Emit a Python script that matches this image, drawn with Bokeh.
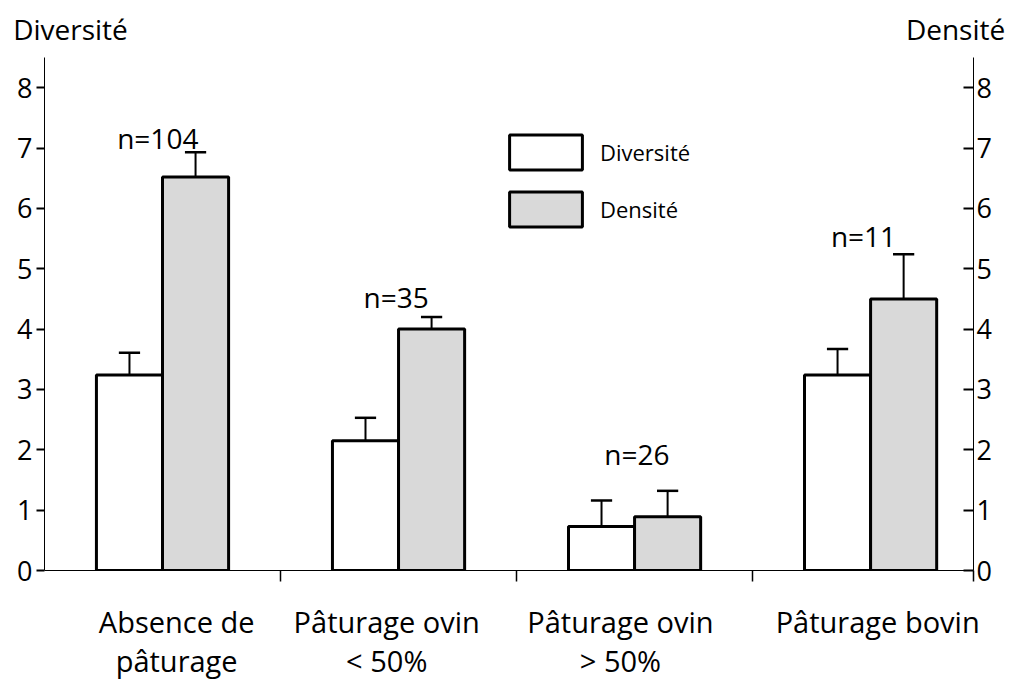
from bokeh.plotting import figure
from bokeh.models import Range1d, LinearAxis, FixedTicker, Legend, LegendItem
from bokeh.embed import file_html
from bokeh.resources import INLINE
from bokeh.core.properties import value

# ---- data ----
categories = ["Absence de\npâturage", "Pâturage ovin\n< 50%", "Pâturage ovin\n> 50%", "Pâturage bovin"]
diversite = [3.24, 2.15, 0.73, 3.24]
diversite_err = [0.37, 0.38, 0.43, 0.43]
densite = [6.52, 4.00, 0.89, 4.50]
densite_err = [0.41, 0.20, 0.43, 0.74]
effectifs = ["n=104", "n=35", "n=26", "n=11"]
y_ticks = [0, 1, 2, 3, 4, 5, 6, 7, 8]
axis_titles = ["Diversité", "Densité"]

# ---- layout / style ----
FONT = "Open Sans"
W, H = 1013, 682
X_END = 3.936
BW = 0.28
GRAY = "#d9d9d9"

p = figure(width=W, height=H, output_backend="svg", toolbar_location=None,
           x_range=Range1d(0, X_END), y_range=Range1d(0, 8.5),
           min_border_left=44, min_border_right=40, min_border_top=57, min_border_bottom=111)
p.grid.visible = False
p.outline_line_color = None
p.background_fill_color = "white"
p.border_fill_color = "white"

centers = [i + 0.5 for i in range(len(categories))]
x_div = [c - BW / 2 for c in centers]
x_den = [c + BW / 2 for c in centers]

r_div = p.vbar(x=x_div, top=diversite, bottom=0, width=BW, fill_color="white",
               line_color="black", line_width=3)
r_den = p.vbar(x=x_den, top=densite, bottom=0, width=BW, fill_color=GRAY,
               line_color="black", line_width=3)

CAP = 0.045
for xs, vals, errs in ((x_div, diversite, diversite_err), (x_den, densite, densite_err)):
    tops = [v + e for v, e in zip(vals, errs)]
    p.segment(x0=xs, x1=xs, y0=vals, y1=tops, line_color="black", line_width=2)
    p.segment(x0=[x - CAP for x in xs], x1=[x + CAP for x in xs], y0=tops, y1=tops,
              line_color="black", line_width=2.5)

# n labels
n_x = [0.48, 1.49, 2.51, 3.47]
n_y = [7.17, 4.53, 1.93, 5.55]
p.text(x=n_x, y=n_y, text=effectifs, text_align="center", text_baseline="alphabetic",
       text_font=value(FONT), text_font_size="28px", text_color="black")

# ---- axes ----
ya = p.yaxis[0]
ya.ticker = FixedTicker(ticks=y_ticks)
ya.major_tick_out = 8
ya.major_tick_in = 0
ya.minor_tick_out = 0
ya.minor_tick_in = 0
ya.axis_line_width = 1
ya.major_tick_line_width = 2
ya.major_label_text_font = FONT
ya.major_label_text_font_size = "27px"
ya.major_label_text_color = "black"
ya.major_label_standoff = 4

ra = LinearAxis(ticker=FixedTicker(ticks=y_ticks), major_tick_in=10, major_tick_out=0,
                minor_tick_in=0, minor_tick_out=0, axis_line_width=1, major_tick_line_width=2,
                major_label_text_font=FONT, major_label_text_font_size="27px",
                major_label_text_color="black", major_label_standoff=3)
p.add_layout(ra, "right")

boundary_ticks = [1, 2, 3, X_END]
xa = p.xaxis[0]
xa.ticker = FixedTicker(ticks=boundary_ticks)
xa.major_tick_out = 11
xa.major_tick_in = 0
xa.minor_tick_out = 0
xa.minor_tick_in = 0
xa.axis_line_width = 1
xa.major_tick_line_width = 1.5
xa.major_label_overrides = {t: "" for t in boundary_ticks}
xa.major_label_text_font_size = "0px"
xa.major_label_standoff = 0

# category labels as a second bottom axis (no line, no ticks)
label_x = [0.56, 1.45, 2.44, 3.53]
cat_axis = LinearAxis(ticker=FixedTicker(ticks=label_x),
                      major_label_overrides={lx: c for lx, c in zip(label_x, categories)},
                      axis_line_color=None, major_tick_line_color=None,
                      minor_tick_line_color=None, major_tick_out=0, major_tick_in=0,
                      major_label_standoff=20, major_label_text_font=FONT,
                      major_label_text_font_size="29px", major_label_text_color="black",
                      major_label_text_line_height=1.0)
p.add_layout(cat_axis, "below")

# axis titles as a top axis (no line, no ticks)
title_x = [0.11, 3.86]
top_axis = LinearAxis(ticker=FixedTicker(ticks=title_x),
                      major_label_overrides={tx: t for tx, t in zip(title_x, axis_titles)},
                      axis_line_color=None, major_tick_line_color=None,
                      minor_tick_line_color=None, major_tick_out=0, major_tick_in=0,
                      major_label_standoff=10, major_label_text_font=FONT,
                      major_label_text_font_size="28px", major_label_text_color="black")
p.add_layout(top_axis, "above")

# legend
legend = Legend(items=[LegendItem(label="Diversité", renderers=[r_div]),
                       LegendItem(label="Densité", renderers=[r_den])],
                location=(456, 339), glyph_width=91, glyph_height=44, spacing=13,
                padding=0, margin=0, border_line_color=None, background_fill_alpha=0,
                label_text_font=FONT, label_text_font_size="22px", label_standoff=9,
                label_text_color="black")
p.add_layout(legend)

open("out.html", "w").write(file_html(p, INLINE))
